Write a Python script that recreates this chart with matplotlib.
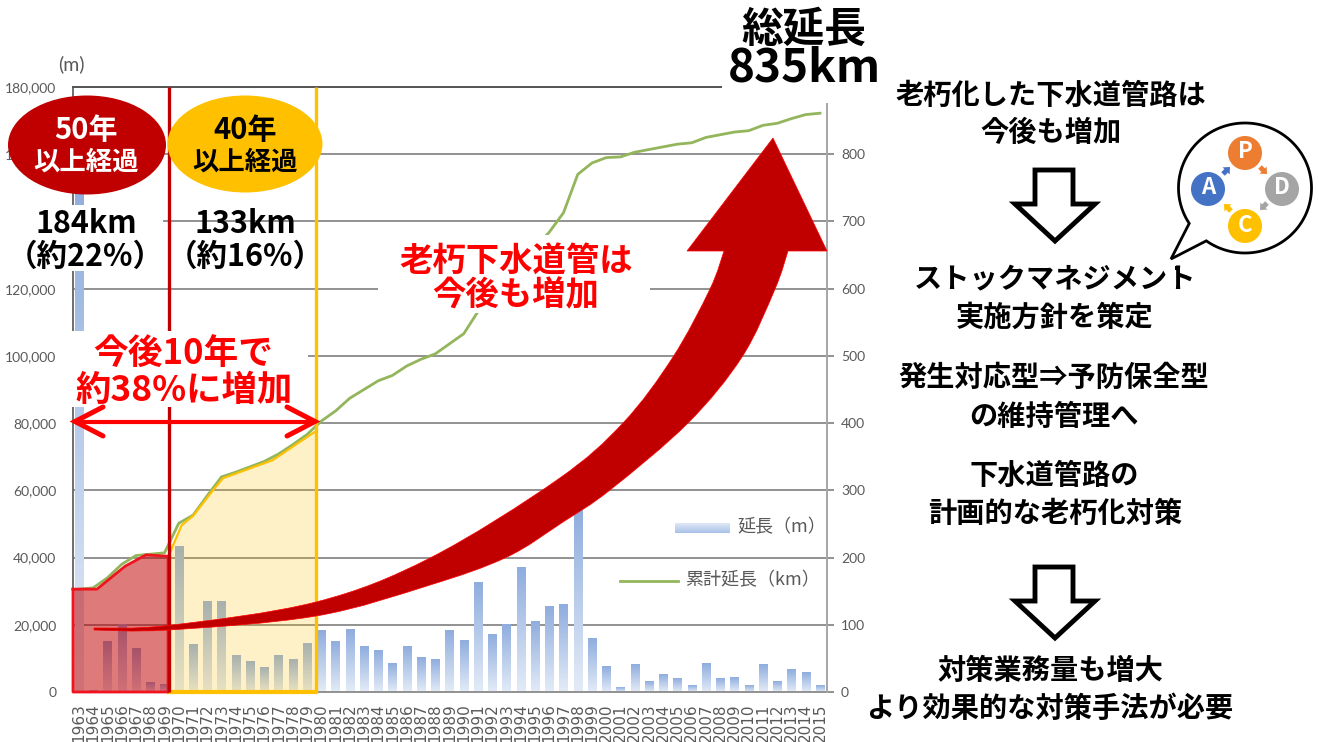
import numpy as np
import matplotlib
matplotlib.use("Agg")
import matplotlib.pyplot as plt
from matplotlib.colors import LinearSegmentedColormap
from matplotlib.patches import Circle, Ellipse, PathPatch, Polygon, Rectangle, FancyArrow
from matplotlib.path import Path

plt.rcParams['font.family'] = ['Noto Sans CJK JP', 'DejaVu Sans']

W, H = 1319, 742

years = list(range(1963, 2016))
length_m = [153000, 500, 15000, 20000, 12800, 2700, 2300, 43200, 14000, 27000,
            27000, 11000, 9000, 7300, 11000, 9800, 14500, 18200, 15000, 18700,
            13600, 12300, 8500, 13600, 10300, 9800, 18200, 15300, 32500, 17000,
            20000, 37000, 21000, 25300, 26000, 55000, 16000, 7700, 1400, 8100,
            3000, 5100, 3900, 1800, 8500, 3900, 4300, 1800, 8100, 3000, 6700,
            5900, 1800]
total_km = [153, 155, 170, 190, 203, 205, 207, 251, 263, 292,
            320, 327, 335, 343, 354, 368, 383, 403, 418, 437,
            450, 463, 471, 485, 495, 503, 518, 533, 566, 583,
            603, 640, 661, 684, 713, 770, 787, 795, 796, 803,
            807, 811, 815, 817, 825, 829, 833, 835, 843, 846,
            853, 859, 861]

# 50年 / 40年 areas, as drawn on the slide
old50_years = [1962.58, 1964.26, 1966.23, 1967.7, 1969.25]
old50_km = [153, 153, 187, 204, 202]
old40_years = [1969.32, 1970.2, 1971, 1972.4, 1973.1, 1976.6, 1979.55]
old40_km = [204, 248, 262, 300, 318, 345, 387]

left_ticks = [0, 20000, 40000, 60000, 80000, 100000, 120000, 140000, 160000, 180000]
right_ticks = [0, 100, 200, 300, 400, 500, 600, 700, 800]

GRAY = '#595959'
GRID = '#929292'
DARK_RED = '#c00000'
AMBER = '#ffc000'
RED = '#ff0000'


def to_curve(points):
    """Catmull-Rom through the points, as bezier path pieces"""
    pts = [np.array(p, dtype=float) for p in points]
    verts, codes = [], []
    for i in range(len(pts) - 1):
        p0 = pts[max(i - 1, 0)]
        p1 = pts[i]
        p2 = pts[i + 1]
        p3 = pts[min(i + 2, len(pts) - 1)]
        verts += [p1 + (p2 - p0) / 6, p2 - (p3 - p1) / 6, p2]
        codes += [Path.CURVE4] * 3
    return verts, codes


fig = plt.figure(figsize=(W / 100, H / 100), dpi=100)

# chart axes: x 73..827, y 87..692 in pixels
ax = fig.add_axes([73 / W, 1 - 692 / H, 754 / W, 605 / H])
ax2 = ax.twinx()

fade = LinearSegmentedColormap.from_list('fade', ['#8fadde', '#e3ebf7'])
gradient = np.linspace(0, 1, 64).reshape(-1, 1)
bars = ax.bar(years, length_m, width=0.57, color='none', zorder=2)
for bar in bars:
    x0, w, h = bar.get_x(), bar.get_width(), bar.get_height()
    ax.imshow(gradient, extent=[x0, x0 + w, 0, h], aspect='auto', cmap=fade,
              origin='upper', zorder=2)

ax.set_xlim(1962.58, 2015.49)
ax.set_ylim(0, 180000)
ax.set_yticks(left_ticks)
ax.set_yticklabels([f'{v:,}' for v in left_ticks], family='Lato', fontsize=10, color=GRAY)
ax.set_xticks(years)
ax.set_xticklabels(years, rotation=90, family='DejaVu Sans', fontsize=11, color=GRAY)
ax.tick_params(axis='x', length=0, pad=8)
ax.tick_params(axis='y', length=0, pad=12)
ax.grid(axis='y', color=GRID, lw=1.4, zorder=1)
ax.set_axisbelow(True)
ax.spines['left'].set_color('#6e6e6e')
ax.spines['left'].set_linewidth(1.4)
ax.spines['top'].set_color('#555555')
ax.spines['top'].set_linewidth(1.4)
ax.spines['bottom'].set_color(GRID)
ax.spines['bottom'].set_linewidth(1.4)
ax.spines['right'].set_visible(False)

ax2.plot(years, total_km, color='#93b55c', lw=2, zorder=3)
ax2.fill_between(old40_years, old40_km, 0, color=AMBER, alpha=0.22, lw=0, zorder=4)
ax2.plot(old40_years, old40_km, color=AMBER, lw=1.6, zorder=5)
ax2.fill_between(old50_years, old50_km, 0, color=DARK_RED, alpha=0.52, lw=0, zorder=4)
ax2.plot(old50_years + old50_years[-1:] + old50_years[:1] + old50_years[:1],
         old50_km + [0, 0, old50_km[0]], color='#f0141e', lw=2, zorder=6, clip_on=False)
ax2.plot([old40_years[0], old40_years[-1]], [0, 0], color=AMBER, lw=3, zorder=5, clip_on=False)
ax2.set_ylim(0, 900)
ax2.set_yticks(right_ticks)
ax2.set_yticklabels(right_ticks, family='Lato', fontsize=10, color=GRAY)
ax2.tick_params(axis='y', length=5, width=1.4, color=GRID, pad=5)
ax2.spines['right'].set_color('#a6a6a6')
ax2.spines['right'].set_linewidth(1.4)
for side in ['left', 'top', 'bottom']:
    ax2.spines[side].set_visible(False)

# everything pasted over the chart lives on a pixel-sized layer
over = fig.add_axes([0, 0, 1, 1], facecolor='none')
over.set_xlim(0, W)
over.set_ylim(H, 0)
over.axis('off')

over.plot([169, 169], [87, 692], color=DARK_RED, lw=2.4, zorder=2, solid_capstyle='butt')
over.plot([315.5, 315.5], [87, 693], color=AMBER, lw=2.4, zorder=2, solid_capstyle='butt')

# white boxes behind the slide text
for x, y, w, h in [(0, 205, 163, 66), (68, 331, 240, 76), (378, 235, 272, 78),
                   (722, 0, 160, 103)]:
    over.add_patch(Rectangle((x, y), w, h, fc='white', ec='none', zorder=3))

# big curved arrow
upper = [(94, 628), (168, 625.5), (316, 602), (430, 558), (557, 480), (623, 423),
         (673, 357), (710, 289), (724, 251)]
lower = [(788, 251), (775, 289), (742, 357), (688, 423), (610, 490), (563, 522),
         (507, 557), (430, 585), (316, 616), (168, 630), (94, 630)]
v1, c1 = to_curve(upper)
v2, c2 = to_curve(lower)
verts = [upper[0]] + v1 + [(687, 251), (773, 138), (827, 251), lower[0]] + v2 + [upper[0]]
codes = [Path.MOVETO] + c1 + [Path.LINETO] * 4 + c2 + [Path.CLOSEPOLY]
over.add_patch(PathPatch(Path(verts, codes), fc=DARK_RED, ec=RED, lw=0.5, zorder=4))

# age badges
over.add_patch(Ellipse((87, 145), 158, 99, fc=DARK_RED, ec='none', zorder=5))
over.add_patch(Ellipse((245, 144), 155, 97, fc=AMBER, ec='none', zorder=5))


def label(x, y, s, size=20, color='black', weight='bold', **kw):
    # Noto sits a little high against the box centre
    over.text(x, y + 2, s, fontsize=size, color=color, fontweight=weight, ha='center',
              va='center', zorder=7, **kw)


label(86, 128, '50年', 21, 'white')
label(86, 160, '以上経過', 19, 'white')
label(245, 128, '40年', 21)
label(245, 160, '以上経過', 19)
label(86, 222, '184km', 22)
label(85, 255, '（約22%）', 22)
label(245, 222, '133km', 22)
label(245, 255, '（約16%）', 22)
label(183, 352, '今後10年で', 25, RED)
label(184, 388, '約38%に増加', 25.5, RED)
label(516, 259, '老朽下水道管は', 24, RED)
label(516, 294, '今後も増加', 24, RED)
label(804, 28, '総延長', 30)
label(804, 66, '835km', 33)

# 10 year span arrow
over.plot([77, 313], [422, 422], color=RED, lw=3, zorder=6, solid_capstyle='butt')
for px, sign in [(75, 1), (315, -1)]:
    over.plot([px + sign * 28, px, px + sign * 28], [407, 421.5, 436], color=RED, lw=3.6,
              zorder=6, solid_capstyle='round', solid_joinstyle='miter')

# legend
legend_grad = LinearSegmentedColormap.from_list('legend', ['#a9c1e8', '#dfe8f6'])
over.imshow(gradient, extent=[675, 730, 533, 523], aspect='auto', cmap=legend_grad,
            origin='lower', zorder=2)
over.set_xlim(0, W)
over.set_ylim(H, 0)
over.plot([620, 678], [580.5, 580.5], color='#93b55c', lw=2, zorder=2)
over.text(737, 527, '延長（m）', fontsize=13, color=GRAY, va='center', zorder=2)
over.text(685, 580, '累計延長（km）', fontsize=13, color=GRAY, va='center', zorder=2)
over.text(71, 64, '(m)', fontsize=14, color=GRAY, ha='center', va='center', family='Lato')

# right hand column
right_lines = [(1051, 94, '老朽化した下水道管路は'), (1051, 131, '今後も増加'),
               (1055, 278, 'ストックマネジメント'), (1055, 316, '実施方針を策定'),
               (1054, 376, '発生対応型⇒予防保全型'), (1054, 415, 'の維持管理へ'),
               (1054, 474, '下水道管路の'), (1055, 512, '計画的な老朽化対策'),
               (1050, 669, '対策業務量も増大'), (1050, 707, 'より効果的な対策手法が必要')]
for x, y, s in right_lines:
    label(x, y, s, 20.3)

for dy in [0, 397]:
    over.add_patch(Polygon([(1035, 170 + dy), (1073, 170 + dy), (1073, 204 + dy), (1095, 204 + dy),
                            (1055, 241 + dy), (1015, 204 + dy), (1035, 204 + dy)],
                           closed=True, fc='white', ec='black', lw=3.5, joinstyle='miter', zorder=5))

# PDCA speech bubble, round from one side of the tail base to the other
theta = np.radians(np.linspace(147, 485.6, 160))
cloud = [(1245 + 66.5 * np.cos(t), 188 + 65 * np.sin(t)) for t in theta]
over.add_patch(Polygon(cloud + [(1171, 259)], closed=True, fc='white', ec='black', lw=2,
                       joinstyle='miter', zorder=5))
over.add_patch(Rectangle((1175, 266), 4, 4, fc='black', ec='none', zorder=5))

nodes = [(1245, 153, 'P', '#ed7d31'), (1282, 189, 'D', '#a5a5a5'),
         (1245, 226, 'C', '#ffc000'), (1208, 189, 'A', '#4472c4')]
for x, y, s, c in nodes:
    over.add_patch(Circle((x, y), 17, fc=c, ec='none', zorder=6))
    label(x, y - 3, s, 16, 'white')
for x, y, dx, dy, c in [(1223, 174, 7, -7, '#4472c4'), (1260, 167, 7, 7, '#ed7d31'),
                        (1267, 203, -7, 7, '#a5a5a5'), (1231, 211, -7, -7, '#ffc000')]:
    over.add_patch(FancyArrow(x, y, dx, dy, width=5, head_width=10, head_length=5.5,
                              length_includes_head=True, fc=c, ec='none', zorder=6))

fig.savefig('out.png', dpi=100)
